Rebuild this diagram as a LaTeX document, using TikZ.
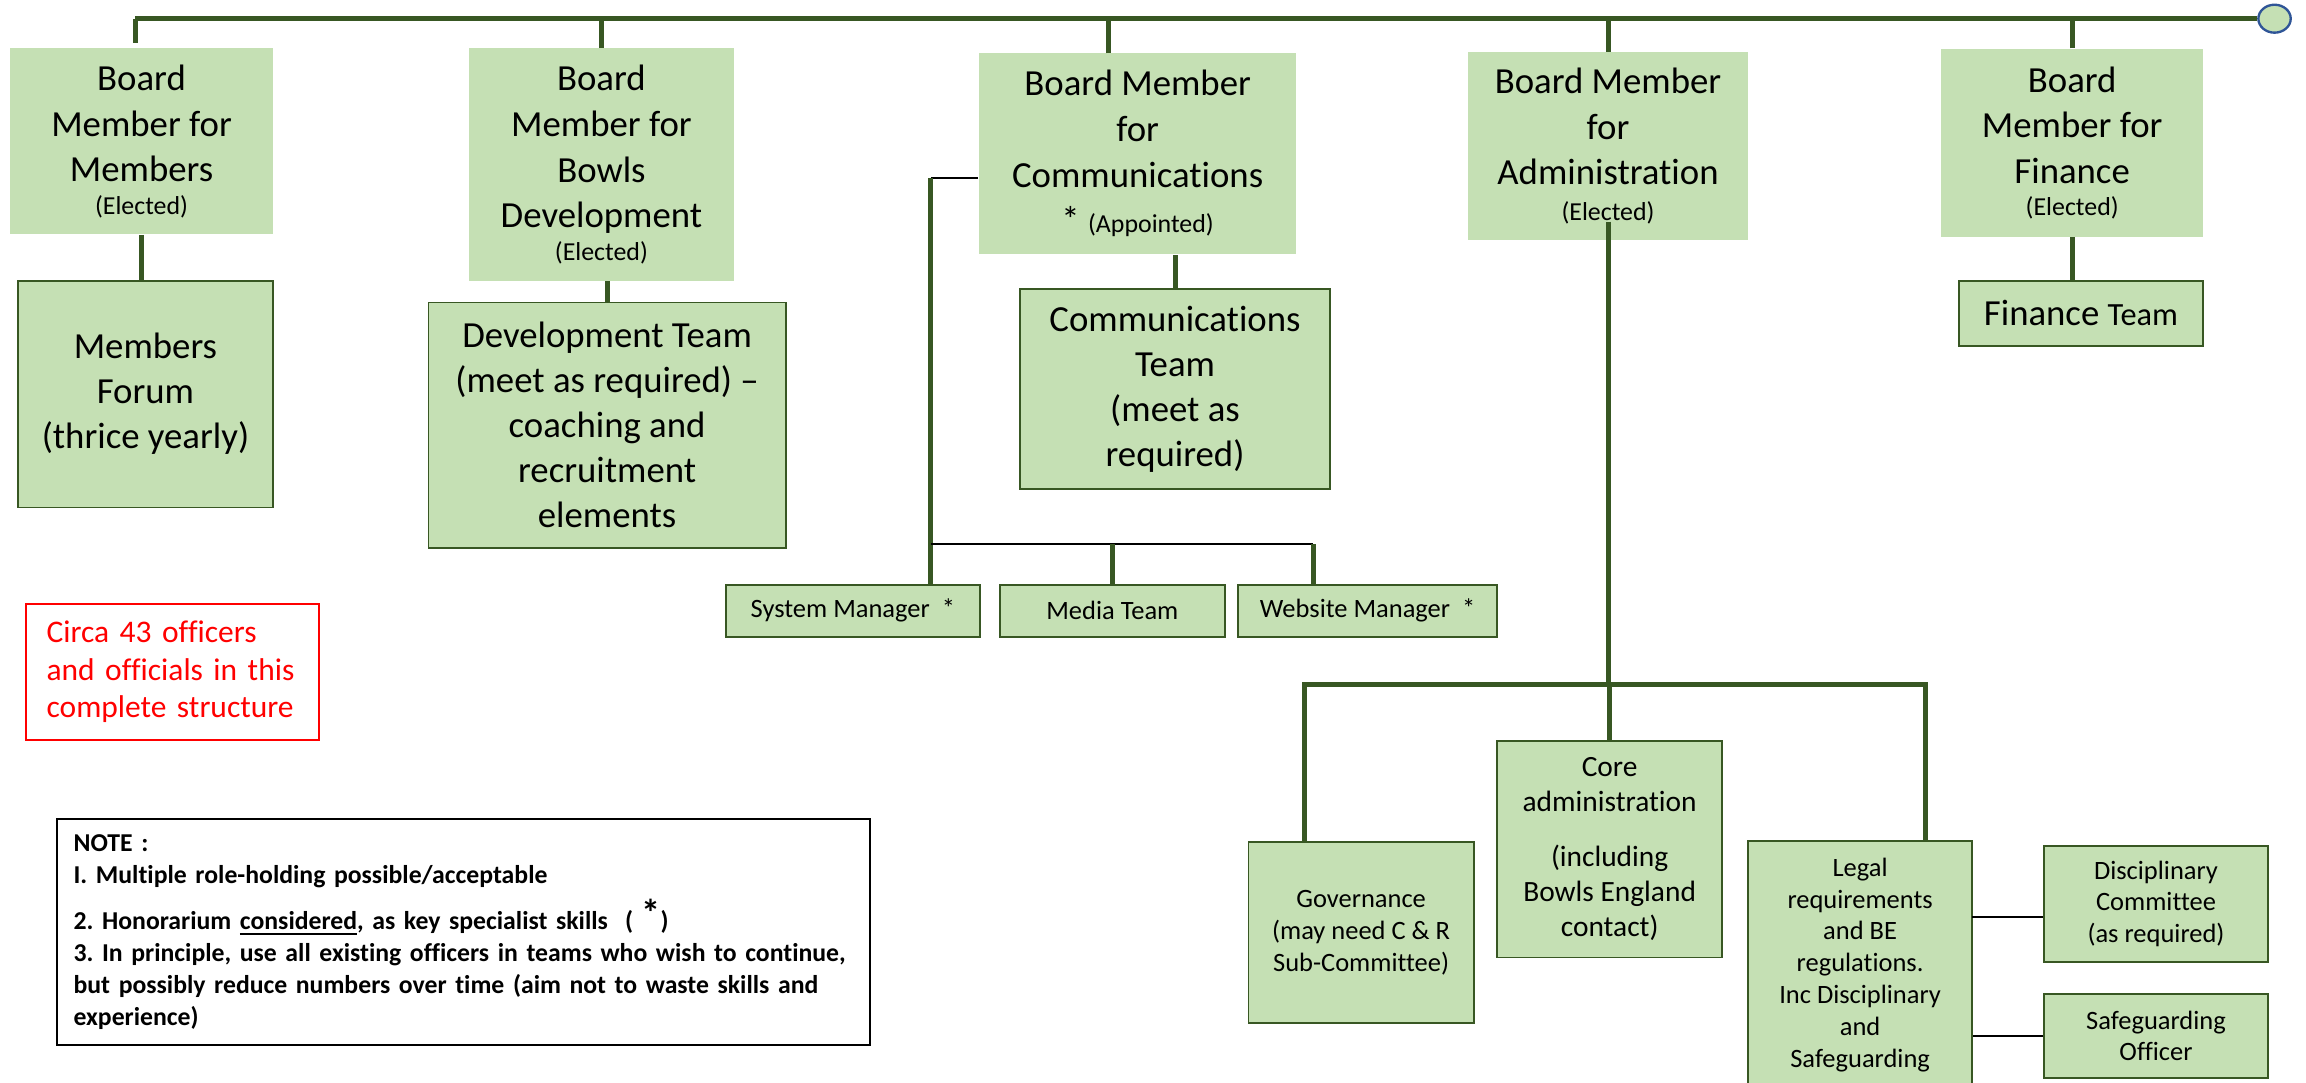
\documentclass[tikz,border=0pt]{standalone}
\usepackage{fontspec}
\setmainfont{Carlito}[Ligatures=NoCommon]
\usetikzlibrary{shapes.geometric}
\definecolor{boxgreen}{RGB}{197,224,180}
\definecolor{linegreen}{RGB}{56,87,35}
\definecolor{capblue}{RGB}{47,85,151}
\newcommand{\elfont}{\fontsize{8.8}{10.5}\selectfont}
\frenchspacing
\tikzset{
  board/.style={fill=boxgreen, align=center, inner sep=1pt, font=\fontsize{12.5}{15.5}\selectfont},
  team/.style={board, draw=linegreen, line width=0.6pt, font=\fontsize{12.5}{15.3}\selectfont},
  minibox/.style={team, font=\fontsize{9}{10.8}\selectfont},
  link/.style={draw=linegreen, line width=1.7pt},
  blink/.style={draw=black, line width=0.9pt},
  bus/.style={draw=linegreen, line width=1.8pt}
}

\begin{document}
\begin{tikzpicture}[x=0.5pt, y=-0.5pt]
  \useasboundingbox (0,0) rectangle (1568,736);

  \node[board, minimum width=89.35pt, minimum height=63.2pt] (bmembers) at (96.25,96.1)
    {Board\\Member for\\Members\\[-4.5pt]{\elfont(Elected)}};
  \node[board, minimum width=89.95pt, minimum height=78.95pt] (bbowls) at (408.95,111.85)
    {Board\\Member for\\Bowls\\Development\\[-4.5pt]{\elfont(Elected)}};
  \node[board, minimum width=107.95pt, minimum height=68.2pt] (bcomms) at (773.55,104.5)
    {Board Member\\for\\Communications\\{*} {\elfont(Appointed)}};
  \node[board, minimum width=95.4pt, minimum height=63.7pt] (badmin) at (1093.4,99.3)
    {Board Member\\for\\Administration\\[-3.5pt]{\elfont(Elected)}};
  \node[board, minimum width=89pt, minimum height=63.85pt] (bfinance) at (1409,97.15)
    {Board\\Member for\\Finance\\[-4.5pt]{\elfont(Elected)}};
  \node[draw=capblue, fill=boxgreen, line width=0.8pt, ellipse, minimum width=11pt, minimum height=9.5pt, inner sep=0pt] (endcap) at (1546.6,12.7) {};

  \node[team, minimum width=86.7pt, minimum height=77pt] (forum) at (98.9,268)
    {Members\\Forum\\(thrice yearly)};
  \node[team, minimum width=121.4pt, minimum height=83.4pt] (devteam) at (412.8,289)
    {Development Team\\(meet as required) --\\coaching and\\recruitment\\elements};
  \node[team, minimum width=105.35pt, minimum height=68.1pt] (commteam) at (798.95,264.6)
    {Communications\\Team\\(meet as\\required)};
  \node[team, minimum width=83.2pt, minimum height=22pt] (finteam) at (1415,213)
    {Finance {\fontsize{11}{13}\selectfont Team}};

  \node[minibox, minimum width=86.4pt, minimum height=17.55pt] (sysmgr) at (579.9,415.35) {System Manager~ *};
  \node[minibox, minimum width=76.65pt, minimum height=17.55pt] (media) at (756.35,415.35) {Media Team};
  \node[minibox, minimum width=87.9pt, minimum height=17.55pt] (webmgr) at (929.9,415.35) {Website Manager~ *};

  \node[minibox, minimum width=76.5pt, minimum height=61.6pt] (gov) at (925.5,634.1)
    {Governance\\(may need C \& R\\Sub-Committee)};
  \node[minibox, minimum width=76.5pt, minimum height=73.5pt, font=\fontsize{10}{11.9}\selectfont] (core) at (1094.5,577.5)
    {Core\\administration\\[6.8pt](including\\Bowls England\\contact)};
  \node[minibox, minimum width=76.2pt, minimum height=84pt] (legal) at (1264.8,656)
    {Legal\\requirements\\and BE\\regulations.\\Inc Disciplinary\\and\\Safeguarding};
  \node[minibox, minimum width=76pt, minimum height=39.5pt] (disc) at (1466,614.5)
    {Disciplinary\\Committee\\(as required)};
  \node[minibox, minimum width=76pt, minimum height=28.4pt] (safe) at (1466,704.4)
    {Safeguarding\\Officer};

  \node[draw=red, line width=0.6pt, text=red, align=left, text width=85.6pt, inner xsep=7pt, minimum height=46.15pt,
    font=\fontsize{10.7}{12.8}\selectfont] (circa) at (117.3,456.85)
    {Circa 43 officers\\and officials in this\\complete structure};
  \node[draw=black, line width=0.6pt, align=left, text width=265pt, inner xsep=5.75pt, minimum height=76.85pt,
    font=\fontsize{8.75}{10.85}\selectfont\bfseries] (note) at (315.05,633.75)
    {NOTE :\\I. Multiple role-holding possible/acceptable\\[3pt]
     2. Honorarium \underline{considered}, as key specialist skills~ ( \raisebox{1pt}{\fontsize{13}{13}\selectfont *})\\
     3. In principle, use all existing officers in teams who wish to continue,\\
     but possibly reduce numbers over time (aim not to waste skills and\\
     experience)};

  \coordinate (busL) at (91.9,12.7);
  \coordinate (mtop) at (91.9,29);
  \coordinate (ctop) at (754,36.3);
  \draw[bus] (busL) -- (endcap.west);
  \draw[link] (busL) -- (mtop);
  \draw[link] (bbowls.north) -- (bbowls.north |- busL);
  \draw[link] (ctop) -- (ctop |- busL);
  \draw[link] (badmin.north) -- (badmin.north |- busL);
  \draw[link] (bfinance.north) -- (bfinance.north |- busL);

  \draw[link] (bmembers.south) -- (bmembers.south |- forum.north);
  \draw[link] (devteam.north) -- (devteam.north |- bbowls.south);
  \draw[link] (commteam.north) -- (commteam.north |- bcomms.south);
  \draw[link] (bfinance.south) -- (bfinance.south |- finteam.north);

  \coordinate (cside) at (633,121);
  \coordinate (cbus) at (633,370);
  \coordinate (cbusR) at (892.8,370);
  \draw[blink] (cside) -- (bcomms.west |- cside);
  \draw[link] (cside) -- (cside |- sysmgr.north);
  \draw[blink] (cbus) -- (cbusR);
  \draw[link] (media.north) -- (media.north |- cbus);
  \draw[link] (cbusR) -- (cbusR |- webmgr.north);

  \coordinate (atop) at (1093.7,150.7);
  \coordinate (abusL) at (886.7,465.5);
  \coordinate (abusR) at (1309,465.5);
  \draw[link] (atop) -- (atop |- abusL);
  \draw[link] (abusL |- gov.north) -- (abusL) -- (abusR) -- (abusR |- legal.north);
  \draw[link] (core.north) -- (core.north |- abusL);

  \coordinate (dl) at (1341,623.5);
  \draw[blink] (dl) -- (dl -| disc.west);
  \draw[blink] (safe.west) -- (safe.west -| legal.east);
\end{tikzpicture}
\end{document}
